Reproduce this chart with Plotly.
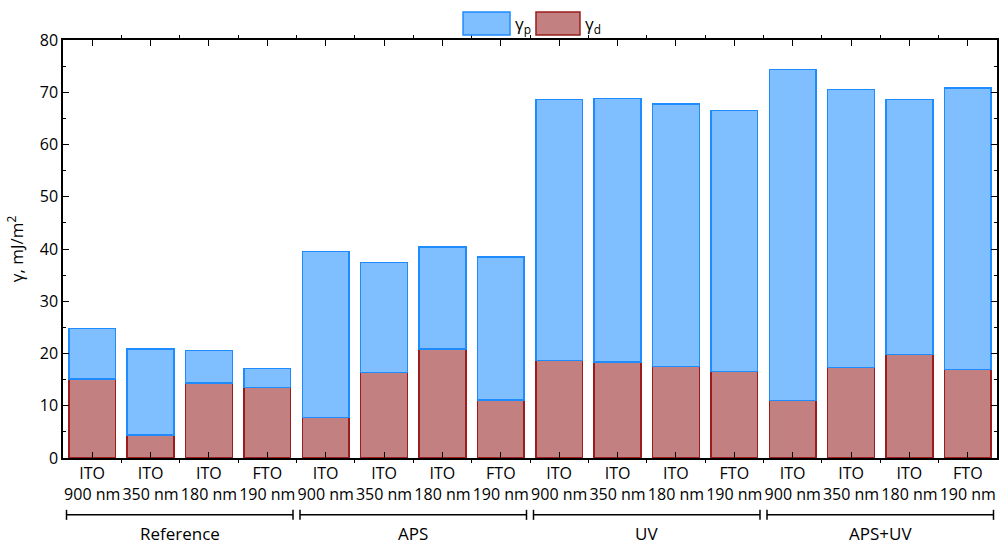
import plotly.graph_objects as go

materials = ["ITO", "ITO", "ITO", "FTO"] * 4
thickness = ["900 nm", "350 nm", "180 nm", "190 nm"] * 4
groups = ["Reference", "APS", "UV", "APS+UV"]
gamma_total = [24.8, 20.9, 20.6, 17.1, 39.5, 37.4, 40.4, 38.5,
               68.6, 68.8, 67.8, 66.5, 74.4, 70.5, 68.6, 70.8]
gamma_d = [15.1, 4.4, 14.4, 13.5, 7.8, 16.4, 20.9, 11.1,
           18.7, 18.4, 17.5, 16.6, 11.0, 17.3, 19.8, 16.9]
gamma_p = [round(t - d, 1) for t, d in zip(gamma_total, gamma_d)]

FONT = "Open Sans"
BLUE_FILL, BLUE_LINE = "#80BFFF", "#1E8CFF"
RED_FILL, RED_LINE = "#C28080", "#9B1C1C"
xs = list(range(len(gamma_d)))
ticktext = [f"{m}<br>{t}" for m, t in zip(materials, thickness)]

fig = go.Figure()
fig.add_trace(go.Bar(
    x=xs, y=gamma_d, name="γd", width=0.8, showlegend=False,
    marker=dict(color=RED_FILL, line=dict(color=RED_LINE, width=1.5)),
))
fig.add_trace(go.Bar(
    x=xs, y=gamma_p, name="γp", width=0.8, showlegend=False,
    marker=dict(color=BLUE_FILL, line=dict(color=BLUE_LINE, width=1.5)),
))

shapes = []
annotations = []
for gi, g in enumerate(groups):
    x0 = gi * 4 - 0.5 + 0.06
    x1 = gi * 4 + 3.5 - 0.06
    yb = -0.136
    shapes.append(dict(type="line", xref="x", yref="paper", x0=x0, x1=x1, y0=yb, y1=yb,
                       line=dict(color="black", width=1.5)))
    for xx in (x0, x1):
        shapes.append(dict(type="line", xref="x", yref="paper", x0=xx, x1=xx,
                           y0=yb - 0.012, y1=yb + 0.012, line=dict(color="black", width=1.5)))
    annotations.append(dict(text=g, xref="x", yref="paper", x=(x0 + x1) / 2, y=-0.18,
                            yanchor="middle", showarrow=False,
                            font=dict(family=FONT, size=17, color="black")))

# manual legend (wide rectangular swatches like the reference)
legend_items = [("γ<sub>p</sub>", BLUE_FILL, BLUE_LINE, 0.4283, 0.4786),
                ("γ<sub>d</sub>", RED_FILL, RED_LINE, 0.5064, 0.5535)]
for label, fill, line, lx0, lx1 in legend_items:
    shapes.append(dict(type="rect", xref="paper", yref="paper", x0=lx0, x1=lx1,
                       y0=1.012, y1=1.067, fillcolor=fill, line=dict(color=line, width=1.5)))
    annotations.append(dict(text=label, xref="paper", yref="paper", x=lx1 + 0.003, y=1.036,
                            xanchor="left", yanchor="middle", showarrow=False,
                            font=dict(family=FONT, size=17, color="black")))

fig.update_layout(
    width=999, height=544,
    barmode="stack",
    plot_bgcolor="white", paper_bgcolor="white",
    margin=dict(l=63, r=2, t=40, b=86),
    font=dict(family=FONT, size=16, color="black"),
    showlegend=False,
    shapes=shapes, annotations=annotations,
    xaxis=dict(range=[-0.5, 15.5], tickmode="array", tickvals=xs, ticktext=ticktext,
               showline=True, linecolor="black", linewidth=1.5, mirror="allticks",
               ticks="inside", ticklen=6, tickcolor="black", showgrid=False,
               automargin=False,
               minor=dict(tick0=-0.5, dtick=1, ticks="outside", ticklen=3, tickcolor="black",
                          showgrid=False),
               tickfont=dict(family=FONT, size=16)),
    yaxis=dict(range=[0, 80], dtick=10, showline=True, linecolor="black", linewidth=1.5,
               mirror="allticks", ticks="inside", ticklen=6, tickcolor="black", showgrid=False,
               zeroline=False, automargin=False,
               minor=dict(dtick=5, ticks="inside", ticklen=3, tickcolor="black"),
               title=dict(text="γ, mJ/m<sup>2</sup>", font=dict(family=FONT, size=17), standoff=12),
               tickfont=dict(family=FONT, size=16)),
)

fig.write_html("out.html", config={"displayModeBar": False},
               post_script="document.body.style.margin='0';document.body.style.overflow='hidden';")
